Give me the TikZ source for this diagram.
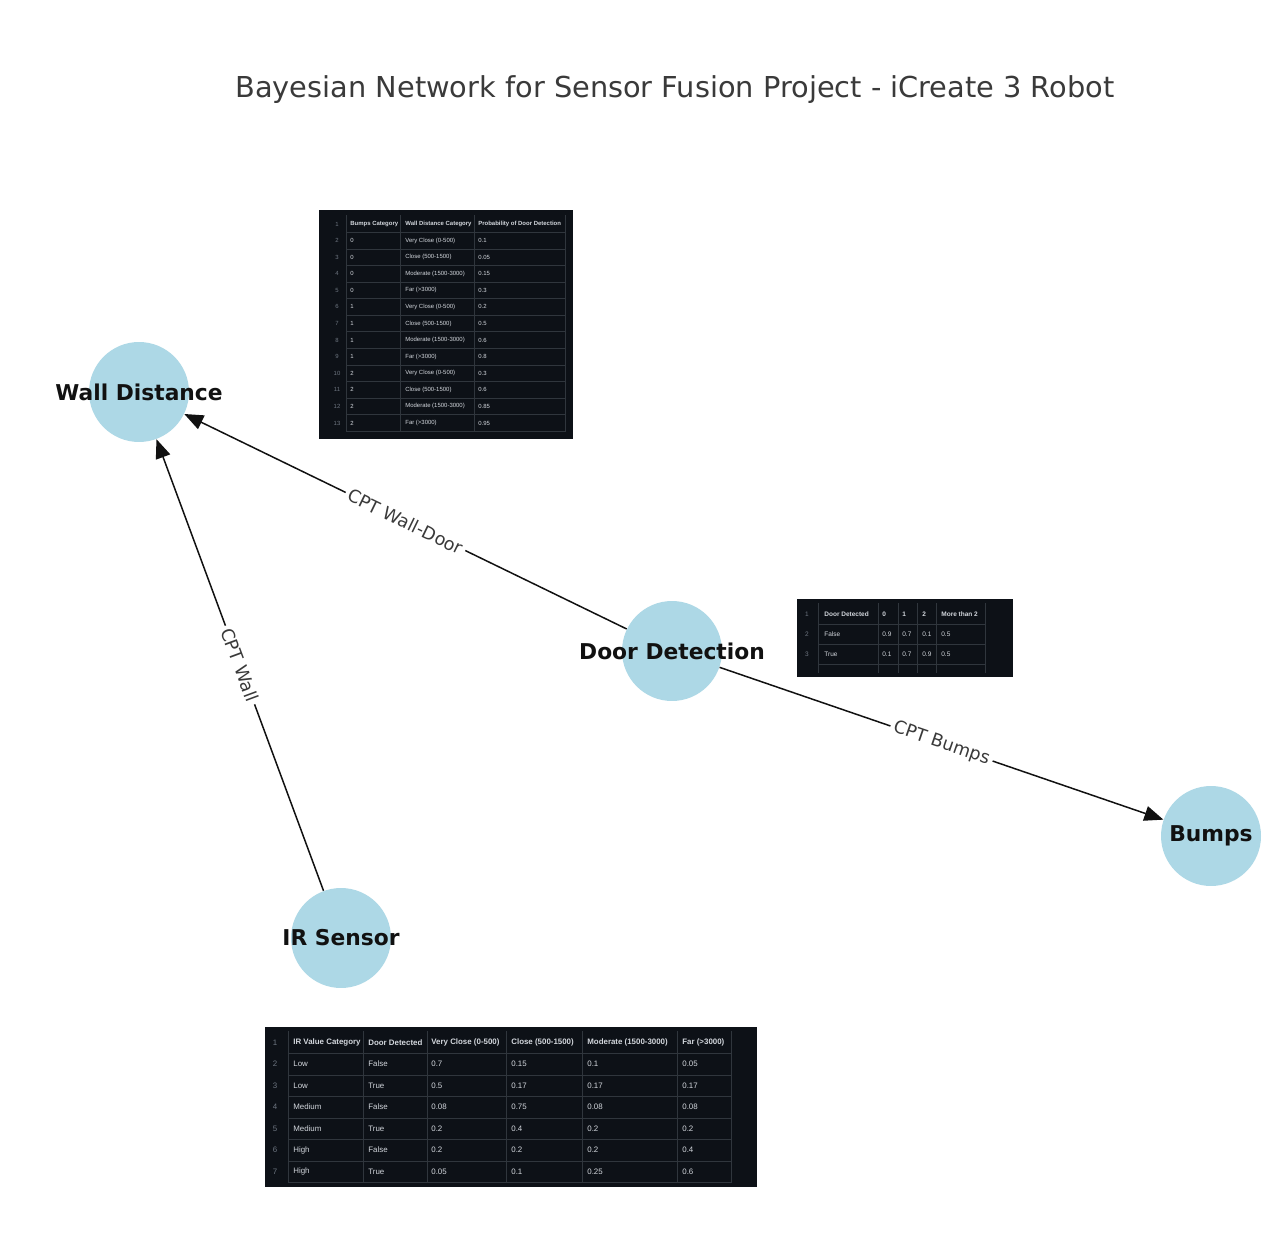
\documentclass[tikz,border=0pt]{standalone}
\usepackage{fontspec}
\setmainfont{DejaVu Sans}
\newfontfamily\gridfont{Liberation Sans}
\usetikzlibrary{arrows.meta,positioning}
\definecolor{NodeBlue}{HTML}{ADD8E6}
\definecolor{Ink}{HTML}{111111}
\definecolor{TitleGray}{HTML}{3A3A3A}
\definecolor{Board}{HTML}{0D1117}
\definecolor{Grid}{HTML}{30363D}
\definecolor{CellText}{HTML}{D3D7DD}
\definecolor{RowNum}{HTML}{6E7681}
\tikzset{
  var/.style={
    circle, fill=NodeBlue, minimum size=2cm, inner sep=0pt
  },
  varname/.style={
    inner sep=0pt, text=Ink, font=\fontsize{12.4}{14}\selectfont\bfseries
  },
  cpt/.style={-{Triangle[length=3.8mm,width=3mm]}, line width=0.85pt, draw=Ink},
  cptlabel/.style={
    midway, sloped, fill=white, inner sep=2pt, text=TitleGray,
    font=\fontsize{10.1}{12}\selectfont
  },
  board/.style={fill=Board},
  gridline/.style={draw=Grid, line width=0.35pt},
  cell/.style={anchor=west, inner sep=0pt, text=CellText},
  rownum/.style={anchor=center, inner sep=0pt, text=RowNum},
  head/.style={cell, font=\bfseries}
}
\begin{document}
\begin{tikzpicture}[x=0.02cm, y=-0.02cm]
  \useasboundingbox[fill=white] (0,0) rectangle (1280,1239);

  \node[text=TitleGray, font=\fontsize{16.4}{19}\selectfont] (title) at (675,90)
    {Bayesian Network for Sensor Fusion Project - iCreate 3 Robot};

  % network
  \node[var, label={[varname, name=wall-t]center:Wall Distance}] (wall) at (139,392) {};
  \node[var, label={[varname, name=door-t]center:Door Detection}] (door) at (672,651) {};
  \node[var, label={[varname, name=bumps-t]center:Bumps}] (bumps) at (1211,836) {};
  \node[var, label={[varname, name=ir-t]center:IR Sensor}] (ir) at (341,938) {};

  \draw[cpt] (door) -- node[cptlabel] (l-walldoor) {CPT Wall-Door} (wall);
  \draw[cpt] (ir) -- node[cptlabel] (l-wall) {CPT Wall} (wall);
  \draw[cpt] (door) -- node[cptlabel] (l-bumps) {CPT Bumps} (bumps);

  % CPT of door detection (bumps x wall distance)
  \begin{scope}[every node/.append style={node font=\gridfont\fontsize{3.4}{4}\selectfont}]
    \fill[board] (319,210) rectangle (573,439);
    \foreach \k in {0,...,12}
      \draw[gridline] (346,{232.3+16.58*\k}) -- (565,{232.3+16.58*\k});
    \foreach \cx in {346,400,474,565}
      \draw[gridline] (\cx,215) -- (\cx,432);
    \node[rownum] (bw-1-n) at (337,224) {1};
    \node[head] (bw-1-a) at (350,224) {Bumps Category};
    \node[head] (bw-1-b) at (405,224) {Wall Distance Category};
    \node[head] (bw-1-c) at (478,224) {Probability of Door Detection};
    \foreach \i/\a/\b/\c [evaluate=\i as \y using 224+16.58*(\i-1)] in {
        2/0/{Very Close (0-500)}/0.1, 3/0/{Close (500-1500)}/0.05,
        4/0/{Moderate (1500-3000)}/0.15, 5/0/{Far (>3000)}/0.3,
        6/1/{Very Close (0-500)}/0.2, 7/1/{Close (500-1500)}/0.5,
        8/1/{Moderate (1500-3000)}/0.6, 9/1/{Far (>3000)}/0.8,
        10/2/{Very Close (0-500)}/0.3, 11/2/{Close (500-1500)}/0.6,
        12/2/{Moderate (1500-3000)}/0.85, 13/2/{Far (>3000)}/0.95} {
      \node[rownum] (bw-\i-n) at (337,\y) {\i};
      \node[cell] (bw-\i-a) at (350,\y) {\a};
      \node[cell] (bw-\i-b) at (405,\y) {\b};
      \node[cell] (bw-\i-c) at (478,\y) {\c};
    }
  \end{scope}

  % CPT of bumps
  \begin{scope}[every node/.append style={node font=\gridfont\fontsize{3.7}{4.4}\selectfont}]
    \fill[board] (797,599) rectangle (1013,677);
    \foreach \k in {0,1,2}
      \draw[gridline] (818,{624+20*\k}) -- (985,{624+20*\k});
    \foreach \cx in {818,878,898,917,936,985}
      \draw[gridline] (\cx,603) -- (\cx,673);
    \node[rownum] (bp-1-n) at (807,614) {1};
    \node[head] (bp-1-a) at (824,614) {Door Detected};
    \node[head] (bp-1-b) at (882,614) {0};
    \node[head] (bp-1-c) at (902,614) {1};
    \node[head] (bp-1-d) at (922,614) {2};
    \node[head] (bp-1-e) at (941,614) {More than 2};
    \foreach \i/\a/\b/\c/\d/\e [evaluate=\i as \y using 614+20*(\i-1)] in {
        2/False/0.9/0.7/0.1/0.5, 3/True/0.1/0.7/0.9/0.5} {
      \node[rownum] (bp-\i-n) at (807,\y) {\i};
      \node[cell] (bp-\i-a) at (824,\y) {\a};
      \node[cell] (bp-\i-b) at (882,\y) {\b};
      \node[cell] (bp-\i-c) at (902,\y) {\c};
      \node[cell] (bp-\i-d) at (922,\y) {\d};
      \node[cell] (bp-\i-e) at (941,\y) {\e};
    }
  \end{scope}

  % CPT of IR sensor
  \begin{scope}[every node/.append style={node font=\gridfont\fontsize{4.5}{5.4}\selectfont}]
    \fill[board] (265,1027) rectangle (757,1187);
    \foreach \k in {0,...,6}
      \draw[gridline] (288,{1053.3+21.5*\k}) -- (731,{1053.3+21.5*\k});
    \foreach \cx in {288,363,427,506,582,677,731}
      \draw[gridline] (\cx,1031) -- (\cx,1183);
    \node[rownum] (ir-1-n) at (275,1042.5) {1};
    \node[head] (ir-1-a) at (293,1042.5) {IR Value Category};
    \node[head] (ir-1-b) at (368,1042.5) {Door Detected};
    \node[head] (ir-1-c) at (431,1042.5) {Very Close (0-500)};
    \node[head] (ir-1-d) at (511,1042.5) {Close (500-1500)};
    \node[head] (ir-1-e) at (587,1042.5) {Moderate (1500-3000)};
    \node[head] (ir-1-f) at (682,1042.5) {Far (>3000)};
    \foreach \i/\a/\b/\c/\d/\e/\f [evaluate=\i as \y using 1042.5+21.5*(\i-1)] in {
        2/Low/False/0.7/0.15/0.1/0.05, 3/Low/True/0.5/0.17/0.17/0.17,
        4/Medium/False/0.08/0.75/0.08/0.08, 5/Medium/True/0.2/0.4/0.2/0.2,
        6/High/False/0.2/0.2/0.2/0.4, 7/High/True/0.05/0.1/0.25/0.6} {
      \node[rownum] (ir-\i-n) at (275,\y) {\i};
      \node[cell] (ir-\i-a) at (293,\y) {\a};
      \node[cell] (ir-\i-b) at (368,\y) {\b};
      \node[cell] (ir-\i-c) at (431,\y) {\c};
      \node[cell] (ir-\i-d) at (511,\y) {\d};
      \node[cell] (ir-\i-e) at (587,\y) {\e};
      \node[cell] (ir-\i-f) at (682,\y) {\f};
    }
  \end{scope}
\end{tikzpicture}
\end{document}
